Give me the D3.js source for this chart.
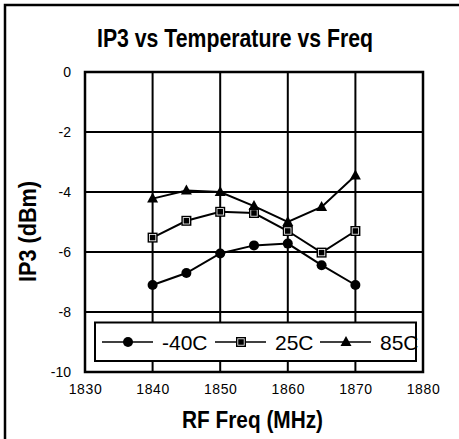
<!DOCTYPE html>
<html><head><meta charset="utf-8">
<script src="https://cdn.jsdelivr.net/npm/d3@7"></script>
<style>body{margin:0;background:#fff}svg{display:block}</style>
</head><body>
<script>
const freqs = [1840, 1845, 1850, 1855, 1860, 1865, 1870];
const tM40 = [-7.1, -6.7, -6.05, -5.78, -5.72, -6.44, -7.1];
const t25 = [-5.52, -4.96, -4.66, -4.7, -5.3, -6.02, -5.3];
const t85 = [-4.22, -3.95, -4.0, -4.47, -5.0, -4.5, -3.45];
const seriesNames = ["-40C", "25C", "85C"];
const xTicks = [1830, 1840, 1850, 1860, 1870, 1880];
const yTicks = [0, -2, -4, -6, -8, -10];

const W = 459, H = 439;
const narrow = "'Liberation Sans Narrow','Arial Narrow','Liberation Sans',Arial,sans-serif";
const sans = "'Liberation Sans',Arial,sans-serif";
const svg = d3.select("body").append("svg").attr("width", W).attr("height", H);

// outer frame (only left/top visible)
svg.append("rect").attr("x", 5).attr("y", 5).attr("width", 470).attr("height", 450)
  .attr("fill", "#fff").attr("stroke", "#000").attr("stroke-width", 2.5);

const x = d3.scaleLinear().domain([1830, 1880]).range([85, 423]);
const y = d3.scaleLinear().domain([-10, 0]).range([372, 72]);

// grid
const g = svg.append("g");
g.selectAll(".vg").data(xTicks).join("line")
  .attr("x1", d => x(d)).attr("x2", d => x(d)).attr("y1", y(0)).attr("y2", y(-10))
  .attr("stroke", "#000").attr("stroke-width", 2);
g.selectAll(".hg").data(yTicks).join("line")
  .attr("x1", x(1830)).attr("x2", x(1880)).attr("y1", d => y(d)).attr("y2", d => y(d))
  .attr("stroke", "#000").attr("stroke-width", 2);

// axes labels via d3 axes (no domain / ticks drawn)
const xAxis = svg.append("g").attr("transform", `translate(0,${y(-10)})`)
  .call(d3.axisBottom(x).tickValues(xTicks).tickSize(0).tickPadding(12).tickFormat(d => String(d)));
xAxis.select(".domain").remove();
xAxis.selectAll("text").attr("font-family", sans).attr("font-size", 14).attr("fill", "#000")
  .attr("letter-spacing", 0.6).attr("dy", "0.71em");
const yAxis = svg.append("g").attr("transform", `translate(${x(1830)},0)`)
  .call(d3.axisLeft(y).tickValues(yTicks).tickSize(0).tickPadding(14).tickFormat(d => String(d)));
yAxis.select(".domain").remove();
yAxis.selectAll("text").attr("font-family", sans).attr("font-size", 14).attr("fill", "#000");

// series
const data = [tM40, t25, t85];
const line = d3.line().x((d, i) => x(freqs[i])).y(d => y(d));
data.forEach(s => {
  svg.append("path").datum(s).attr("d", line).attr("fill", "none")
    .attr("stroke", "#000").attr("stroke-width", 2);
});

function marker(sel, type, cx, cy) {
  if (type === 0) {
    sel.append("circle").attr("cx", cx).attr("cy", cy).attr("r", 5).attr("fill", "#000");
  } else if (type === 1) {
    sel.append("rect").attr("x", cx - 5).attr("y", cy - 5).attr("width", 10).attr("height", 10).attr("fill", "#000");
    sel.append("rect").attr("x", cx - 3.2).attr("y", cy - 3.2).attr("width", 6.4).attr("height", 6.4)
      .attr("fill", "none").attr("stroke", "#fff").attr("stroke-width", 0.8);
  } else {
    sel.append("path").attr("d", `M${cx},${cy - 6}L${cx + 5.5},${cy + 4}L${cx - 5.5},${cy + 4}Z`).attr("fill", "#000");
  }
}
data.forEach((s, k) => {
  s.forEach((v, i) => marker(svg, k, x(freqs[i]), y(v)));
});

// legend
const lg = svg.append("g");
lg.append("rect").attr("x", 95).attr("y", 322.5).attr("width", 321).attr("height", 38.5)
  .attr("fill", "#fff");
const legX = [102, 215, 320];
seriesNames.forEach((n, k) => {
  const lx = legX[k], ly = 342;
  lg.append("line").attr("x1", lx).attr("x2", lx + 51).attr("y1", ly).attr("y2", ly)
    .attr("stroke", "#000").attr("stroke-width", 1.5);
  marker(lg, k, lx + 26, ly);
  lg.append("text").attr("x", lx + 60).attr("y", ly + 7.5).text(n)
    .attr("font-family", sans).attr("font-size", 21).attr("fill", "#000");
});
lg.append("rect").attr("x", 95).attr("y", 322.5).attr("width", 321).attr("height", 38.5)
  .attr("fill", "none").attr("stroke", "#000").attr("stroke-width", 2);

// plot border
svg.append("rect").attr("x", x(1830)).attr("y", y(0)).attr("width", x(1880) - x(1830)).attr("height", y(-10) - y(0))
  .attr("fill", "none").attr("stroke", "#000").attr("stroke-width", 2.5);

// titles
svg.append("text").attr("x", 97).attr("y", 47.3).text("IP3 vs Temperature vs Freq")
  .attr("font-family", narrow).attr("font-weight", "bold").attr("font-size", 25)
  .attr("textLength", 276).attr("lengthAdjust", "spacingAndGlyphs");
svg.append("text").attr("x", 182).attr("y", 428.3).text("RF Freq (MHz)")
  .attr("font-family", narrow).attr("font-weight", "bold").attr("font-size", 23)
  .attr("textLength", 141).attr("lengthAdjust", "spacingAndGlyphs");
svg.append("text").attr("transform", "translate(36,282) rotate(-90)").text("IP3 (dBm)")
  .attr("font-family", narrow).attr("font-weight", "bold").attr("font-size", 24)
  .attr("textLength", 101).attr("lengthAdjust", "spacingAndGlyphs");
</script>
</body></html>
